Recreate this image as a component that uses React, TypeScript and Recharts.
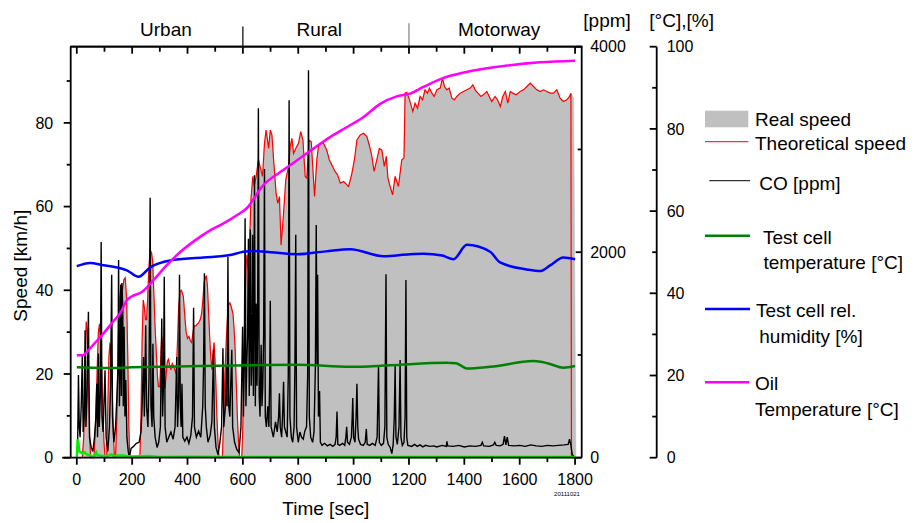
import React from 'react';
import { ComposedChart, Area, Line, XAxis, YAxis, ReferenceLine, ReferenceDot } from 'recharts';

// [time s, km/h]
const theoreticalSpeed: [number, number][] = [
  [0,0],[20,0],[25,5],[30,22],[34,32.5],[38,30],[42,18],[46,6],[50,0],[62,0],[68,8],[74,22],[78,30],[82,32],[88,25],[94,12],[98,4],[102,0],[108,0],[112,12],[116,24],[120,27.5],[124,22],[128,16],[132,6],[136,0],[140,0],[145,10],[150,28],[155,38],[160,41.5],[165,40],[170,42.5],[175,43],[180,38],[184,25],[188,8],[191,0],[228,0],[232,10],[236,28],[240,37.7],[244,36],[248,33],[252,33],[256,38],[260,45],[265,49.6],[270,49],[274,47],[278,40],[283,31],[288,24],[292,19],[295,17],[300,17],[304,25],[307,29],[311,26],[315,18],[319,16.5],[323,20],[327,23],[331,23.5],[336,22],[340,21],[345,22.5],[349,22],[354,21],[359,20],[364,28],[368,36],[373,39.7],[378,40],[385,38.5],[390,34],[395,30],[400,28.5],[405,29],[410,28],[415,27.5],[420,30],[424,31.5],[430,31.5],[436,32],[440,32.2],[446,33],[451,34.5],[456,38],[460,42],[464,42.8],[468,43.5],[472,41],[476,35],[480,29],[484,24],[488,21],[492,25],[496,27.5],[499,24],[502,18.5],[506,10],[510,4],[514,0],[526,0],[530,8],[535,20],[540,28],[544,33],[548,36.5],[553,37],[558,36],[564,34.5],[568,31],[572,26],[576,18],[580,10],[584,4],[588,0],[596,0],[600,8],[604,25],[608,37.7],[612,46],[615,48.5],[619,45],[623,48],[629,61.6],[636,67.2],[641,64.8],[648,67.2],[656,71.2],[662,69.6],[671,67.2],[678,75.1],[684,78.3],[693,73.9],[699,78.3],[705,77.1],[711,71.2],[720,63.2],[726,60.8],[732,62.4],[738,50.8],[747,58.4],[755,66.4],[765,69.6],[771,74.3],[777,76.3],[783,72.7],[791,73.9],[801,75.1],[809,77.9],[817,75.9],[825,67.2],[831,66.8],[839,75.9],[847,75.5],[853,68.8],[859,62.4],[867,71.2],[873,74.3],[882,75.1],[891,75.1],[903,73.5],[912,71.2],[921,70],[933,68.4],[942,67.6],[952,65.6],[964,66],[976,65.2],[982,64.8],[994,68],[1003,71.2],[1012,75.9],[1024,77.1],[1036,77.5],[1048,76.7],[1058,74.3],[1066,72],[1074,68.4],[1084,71.2],[1093,73.9],[1102,73.5],[1111,69.6],[1118,72],[1124,66.8],[1132,64.8],[1141,62.8],[1150,67.2],[1162,64.8],[1174,71.2],[1182,71.6],[1186,87.1],[1192,87.3],[1202,85.5],[1214,82.7],[1222,84.7],[1231,83.5],[1240,86.3],[1249,85.5],[1258,87.9],[1267,87.1],[1274,88.3],[1283,87.1],[1291,86.3],[1301,87.9],[1313,88.3],[1321,90.7],[1328,88.7],[1337,87.9],[1345,88.3],[1355,85.9],[1364,85.5],[1373,86.3],[1385,87.1],[1397,87.5],[1409,87.9],[1421,88.3],[1431,89.1],[1439,87.9],[1449,87.1],[1460,86.3],[1469,86.7],[1481,87.5],[1490,86.3],[1499,85.1],[1511,86.3],[1520,85.5],[1530,83.9],[1539,86.3],[1548,87.5],[1557,84.7],[1566,87.5],[1575,87.1],[1587,86.7],[1602,87.5],[1614,87.9],[1626,88.7],[1638,89.5],[1650,88.7],[1662,87.9],[1674,87.5],[1686,87.9],[1698,87.5],[1710,87.1],[1722,87.1],[1734,87.9],[1746,85.9],[1758,85.1],[1770,85.5],[1780,86.3],[1785,87.1],[1787,0],[1800,0],
];

// real speed follows the theoretical trace, ending a little later
const realSpeedEnd: [number, number][] = [[1785, 87.1], [1795, 86], [1803, 0]];

// [time s, ppm]
const coPpm: [number, number][] = [
  [0,0],[3,100],[6,805],[9,300],[12,200],[16,500],[20,1000],[23,250],[27,400],[30,1240],[33,300],[37,600],[42,1420],[46,200],[52,100],[58,60],[64,200],[69,400],[72,720],[75,200],[78,1015],[81,300],[85,600],[88,2100],[91,400],[95,250],[102,850],[106,200],[112,60],[118,300],[122,700],[126,1780],[129,400],[134,150],[140,300],[145,600],[149,900],[151,1925],[154,500],[157,1000],[159,1680],[161,600],[163,1700],[166,1470],[168,500],[171,1275],[174,400],[177,755],[181,200],[186,60],[190,0],[196,90],[205,110],[215,140],[225,150],[232,250],[236,500],[241,980],[244,400],[249,1290],[252,500],[257,300],[261,800],[265,2530],[268,500],[272,300],[275,1110],[278,400],[283,200],[290,100],[296,150],[302,300],[307,1355],[310,400],[313,700],[316,1760],[319,300],[325,150],[332,200],[340,250],[348,180],[355,300],[361,980],[364,300],[368,600],[371,1780],[374,500],[377,300],[380,720],[383,200],[390,160],[398,200],[405,140],[412,220],[418,400],[422,1460],[425,300],[432,200],[440,260],[448,200],[455,500],[458,900],[461,1795],[464,500],[468,300],[474,150],[482,220],[488,350],[494,1050],[497,300],[503,100],[510,30],[517,150],[523,300],[528,1065],[531,300],[537,500],[541,900],[543,500],[546,1955],[549,500],[553,400],[556,700],[560,1050],[563,300],[570,150],[578,80],[586,50],[593,300],[596,800],[599,1275],[602,400],[605,900],[608,2330],[611,500],[614,900],[617,1200],[620,2130],[623,600],[627,2220],[630,700],[633,1000],[635,2170],[638,600],[642,2750],[645,500],[648,1500],[651,700],[653,1200],[656,3400],[659,600],[662,400],[666,1100],[669,500],[672,700],[675,1200],[678,2810],[681,400],[685,300],[690,500],[694,300],[697,800],[699,1528],[702,300],[710,200],[718,350],[724,250],[729,400],[732,627],[735,300],[740,200],[744,450],[747,740],[750,300],[755,250],[760,200],[764,800],[767,3480],[770,400],[775,200],[780,150],[785,300],[788,900],[791,2170],[794,300],[800,150],[806,250],[812,200],[818,180],[824,260],[830,300],[834,800],[837,3770],[840,400],[845,200],[852,150],[857,250],[862,900],[865,2265],[868,900],[870,1780],[873,400],[877,650],[880,150],[886,120],[895,140],[905,115],[915,130],[925,110],[933,130],[937,200],[940,450],[943,130],[950,120],[960,140],[968,120],[972,200],[975,300],[978,150],[985,130],[992,200],[995,400],[997,580],[1000,200],[1005,150],[1009,400],[1012,720],[1015,300],[1018,180],[1025,130],[1035,120],[1042,150],[1046,280],[1049,130],[1058,120],[1068,140],[1078,120],[1085,200],[1090,900],[1093,150],[1100,120],[1108,140],[1113,300],[1117,1785],[1120,200],[1125,130],[1132,100],[1138,40],[1143,130],[1147,400],[1150,900],[1153,200],[1158,130],[1164,300],[1168,950],[1171,200],[1176,120],[1182,150],[1186,400],[1189,1730],[1192,200],[1196,120],[1210,110],[1220,130],[1230,110],[1240,125],[1250,105],[1260,120],[1275,110],[1290,115],[1300,105],[1320,120],[1335,110],[1337,160],[1340,115],[1360,110],[1380,120],[1400,105],[1420,115],[1440,110],[1460,120],[1465,150],[1470,115],[1490,110],[1505,125],[1510,150],[1515,120],[1530,115],[1540,130],[1545,210],[1550,125],[1555,200],[1560,120],[1580,115],[1600,120],[1620,110],[1640,125],[1660,115],[1680,110],[1700,120],[1720,115],[1740,120],[1760,125],[1775,130],[1780,180],[1785,120],[1790,30],[1795,15],[1800,0],
];

// [time s, °C]
const cellTemperature: [number, number][] = [
  [0,22.0],[100,21.8],[200,22.0],[445,22.3],[638,22.5],[800,22.6],[988,22.1],[1132,22.5],[1337,23.1],[1370,23.0],[1409,21.7],[1493,22.1],[1650,23.5],[1700,23.0],[1758,21.9],[1800,22.3],
];

// [time s, %]
const cellHumidity: [number, number][] = [
  [0,46.6],[48,47.4],[96,46.8],[145,46.3],[181,45.6],[223,44.0],[265,46.3],[337,48.0],[457,48.7],[554,49.3],[602,50.1],[638,50.3],[700,50.0],[795,49.5],[900,50.2],[988,50.7],[1108,49.0],[1204,49.5],[1252,49.6],[1320,49.2],[1361,48.3],[1409,51.8],[1493,50.1],[1529,47.5],[1626,45.8],[1674,45.4],[1710,46.8],[1758,48.7],[1800,48.3],
];

// [time s, °C]
const oilTemperature: [number, number][] = [
  [0,24.9],[20,24.9],[40,26],[60,27.5],[96,30.2],[130,33],[157,35.2],[181,38.3],[200,39.3],[235,40.3],[277,43.2],[320,46.5],[373,50],[430,53],[482,55.3],[530,57],[578,59],[614,60.7],[674,66.3],[735,69.5],[795,72.3],[855,75.2],[915,78],[975,80.4],[1036,82.9],[1096,86.1],[1156,87.9],[1204,88.6],[1252,90.2],[1325,92.4],[1433,94.2],[1553,95.4],[1674,96.2],[1800,96.6],
];

// unlabelled trace along the bottom (km/h axis)
const lowTrace: [number, number][] = [
  [0,0],[3,4.4],[6,3.5],[9,1.5],[14,1.3],[20,1.0],[28,1.3],[36,0.8],[45,0.6],[55,0.4],[65,0.5],[70,1.3],[75,0.6],[90,0.5],[110,0.4],[125,0.8],[135,0.4],[160,0.6],[180,0.4],[200,0.3],[260,0.4],[300,0.2],[400,0.25],[600,0.2],[1000,0.15],[1800,0.15],
];

const timeTicks = [0,100,200,300,400,500,600,700,800,900,1000,1100,1200,1300,1400,1500,1600,1700,1800];
const speedTicks = [0,10,20,30,40,50,60,70,80,90];
const ppmTicks = [0,1000,2000,3000,4000];
const pctTicks = [0,10,20,30,40,50,60,70,80,90,100];
const timeDomain: [number, number] = [-22, 1824];
const speedDomain: [number, number] = [0, 98.2];
const phaseBounds = [600, 1200];
const phaseLabels: { name: string; t: number }[] = [
  { name: 'Urban', t: 322 },
  { name: 'Rural', t: 876 },
  { name: 'Motorway', t: 1526 },
];

function buildRows() {
  const map = new Map<number, any>();
  const add = (arr: [number, number][], key: string) => {
    arr.forEach(([t, v]) => {
      const r = map.get(t) ?? { t };
      r[key] = v;
      map.set(t, r);
    });
  };
  add(theoreticalSpeed, 'theo');
  add(theoreticalSpeed.filter(([t]) => t < realSpeedEnd[0][0]), 'real');
  add(realSpeedEnd, 'real');
  add(coPpm, 'co');
  add(cellTemperature, 'cellT');
  add(cellHumidity, 'hum');
  add(oilTemperature, 'oil');
  add(lowTrace, 'low');
  return Array.from(map.values()).sort((a, b) => a.t - b.t);
}

const rows = buildRows();
const FONT = '"Liberation Sans", Arial, sans-serif';
const AX = 1.8;

const BottomTick = (p: any) => {
  const major = p.payload.value % 200 === 0;
  return (
    <g>
      <line x1={p.x} y1={p.y} x2={p.x} y2={p.y + (major ? 7 : 4.3)} stroke="#000" strokeWidth={AX} />
      {major && (
        <text x={p.x} y={p.y + 27.5} textAnchor="middle" fontSize={16} fill="#000" fontFamily={FONT}>
          {p.payload.value}
        </text>
      )}
    </g>
  );
};

const TopTick = (p: any) => {
  const major = p.payload.value % 200 === 0;
  return <line x1={p.x} y1={p.y} x2={p.x} y2={p.y + (major ? 7 : 5)} stroke="#000" strokeWidth={AX} />;
};

const LeftTick = (p: any) => {
  const major = p.payload.value % 20 === 0;
  return (
    <g>
      <line x1={p.x - (major ? 7 : 4)} y1={p.y} x2={p.x} y2={p.y} stroke="#000" strokeWidth={AX} />
      {major && (
        <text x={p.x - 17.5} y={p.y + 5.7} textAnchor="end" fontSize={16} fill="#000" fontFamily={FONT}>
          {p.payload.value}
        </text>
      )}
    </g>
  );
};

const PpmTick = (p: any) => {
  const major = p.payload.value % 2000 === 0;
  return (
    <g>
      <line x1={p.x - (major ? 6 : 4)} y1={p.y} x2={p.x} y2={p.y} stroke="#000" strokeWidth={AX} />
      {major && (
        <text x={p.x + 8.5} y={p.y + 5.7} textAnchor="start" fontSize={16} fill="#000" fontFamily={FONT}>
          {p.payload.value}
        </text>
      )}
    </g>
  );
};

const PctTick = (p: any) => {
  const major = p.payload.value % 20 === 0;
  return (
    <g>
      <line x1={p.x - (major ? 7 : 4.5)} y1={p.y} x2={p.x} y2={p.y} stroke="#000" strokeWidth={AX} />
      {major && (
        <text x={p.x + 10} y={p.y + 5.7} textAnchor="start" fontSize={16} fill="#000" fontFamily={FONT}>
          {p.payload.value}
        </text>
      )}
    </g>
  );
};

const T = (props: any) => <text fontFamily={FONT} fontSize={19} fill="#000" {...props} />;

export default function App() {
  return (
    <div style={{ position: 'absolute', left: 0, top: 0, width: 914, height: 523, background: '#fff', fontFamily: FONT }}>
      <ComposedChart
        width={914}
        height={523}
        data={rows}
        margin={{ top: 26.7, right: 197.3, bottom: 35.3, left: 10.7 }}
      >
        <XAxis
          xAxisId="b"
          dataKey="t"
          type="number"
          domain={timeDomain}
          ticks={timeTicks}
          interval={0}
          height={30}
          tickSize={0}
          tickMargin={0}
          tickLine={false}
          axisLine={{ stroke: '#000', strokeWidth: AX }}
          tick={<BottomTick />}
        />
        <XAxis
          xAxisId="top"
          orientation="top"
          dataKey="t"
          type="number"
          domain={timeDomain}
          ticks={timeTicks}
          interval={0}
          height={20}
          tickSize={0}
          tickMargin={0}
          tickLine={false}
          axisLine={{ stroke: '#000', strokeWidth: AX }}
          tick={<TopTick />}
        />
        <YAxis
          yAxisId="speed"
          domain={speedDomain}
          ticks={speedTicks}
          interval={0}
          width={60}
          tickSize={0}
          tickMargin={0}
          tickLine={false}
          axisLine={{ stroke: '#000', strokeWidth: AX }}
          tick={<LeftTick />}
        />
        <YAxis
          yAxisId="r2pct"
          orientation="right"
          domain={[0, 100]}
          ticks={pctTicks}
          interval={0}
          width={60}
          tickSize={0}
          tickMargin={0}
          tickLine={false}
          axisLine={{ stroke: '#000', strokeWidth: AX }}
          tick={<PctTick />}
        />
        <YAxis
          yAxisId="r1ppm"
          orientation="right"
          domain={[0, 4000]}
          ticks={ppmTicks}
          interval={0}
          width={75}
          tickSize={0}
          tickMargin={0}
          tickLine={false}
          axisLine={{ stroke: '#000', strokeWidth: AX }}
          tick={<PpmTick />}
        />
        <Area xAxisId="b" yAxisId="speed" dataKey="real" type="linear" fill="#c0c0c0" fillOpacity={1} stroke="#c0c0c0" strokeWidth={0.5} connectNulls dot={false} activeDot={false} isAnimationActive={false} />
        <Line xAxisId="b" yAxisId="speed" dataKey="theo" type="linear" stroke="#ff0000" strokeWidth={1.2} connectNulls dot={false} activeDot={false} isAnimationActive={false} />
        <Line xAxisId="b" yAxisId="r1ppm" dataKey="co" type="linear" stroke="#000000" strokeWidth={1.4} connectNulls dot={false} activeDot={false} isAnimationActive={false} />
        <Line xAxisId="top" yAxisId="speed" dataKey="low" type="linear" stroke="#00ee00" strokeWidth={2.4} connectNulls dot={false} activeDot={false} isAnimationActive={false} />
        <Line xAxisId="b" yAxisId="r2pct" dataKey="cellT" type="monotone" stroke="#008000" strokeWidth={2.5} connectNulls dot={false} activeDot={false} isAnimationActive={false} />
        <Line xAxisId="b" yAxisId="r2pct" dataKey="hum" type="monotone" stroke="#0000ff" strokeWidth={2.5} connectNulls dot={false} activeDot={false} isAnimationActive={false} />
        <Line xAxisId="b" yAxisId="r2pct" dataKey="oil" type="monotone" stroke="#ff00ff" strokeWidth={2.5} connectNulls dot={false} activeDot={false} isAnimationActive={false} />
        <ReferenceLine
          xAxisId="b"
          yAxisId="speed"
          ifOverflow="visible"
          segment={[{ x: -53, y: 0 }, { x: timeDomain[0], y: 0 }]}
          stroke="#000"
          strokeWidth={AX}
        />
        {phaseBounds.map((b, i) => (
          <ReferenceLine
            key={b}
            xAxisId="b"
            yAxisId="speed"
            ifOverflow="visible"
            segment={[{ x: b, y: speedDomain[1] }, { x: b, y: i === 0 ? 103 : 103.8 }]}
            stroke={i === 0 ? '#000' : '#808080'}
            strokeWidth={1.2}
          />
        ))}
        {phaseLabels.map((p) => (
          <ReferenceDot
            key={p.name}
            xAxisId="b"
            yAxisId="speed"
            x={p.t}
            y={102.4}
            r={0}
            fill="none"
            stroke="none"
            ifOverflow="visible"
            label={{ value: p.name, position: 'center', fontSize: 19, fill: '#000', fontFamily: FONT }}
          />
        ))}
      </ComposedChart>
      <svg width={914} height={523} style={{ position: 'absolute', left: 0, top: 0, pointerEvents: 'none' }}>
        {/* top edge of the plot frame */}
        <line x1={70} y1={46.7} x2={582.6} y2={46.7} stroke="#000" strokeWidth={AX} />
        <T x={0} y={0} textAnchor="middle" transform="translate(26.5 265.7) rotate(-90)">Speed [km/h]</T>
        <T x={325.8} y={515} textAnchor="middle">Time [sec]</T>
        <T x={583.3} y={27} textAnchor="start">[ppm]</T>
        <T x={649.3} y={27} textAnchor="start">[°C],[%]</T>
        <text x={567} y={496} textAnchor="middle" fontSize={6} fontFamily={FONT} fill="#000">20111021</text>
        {/* legend */}
        <rect x={705} y={110.7} width={43.3} height={16.6} fill="#c0c0c0" />
        <T x={755} y={126}>Real speed</T>
        <line x1={705} y1={141.7} x2={748.3} y2={141.7} stroke="#ff0000" strokeWidth={1} />
        <T x={755} y={149.5}>Theoretical speed</T>
        <line x1={709.3} y1={180.7} x2={750} y2={180.7} stroke="#000" strokeWidth={1} />
        <T x={759.3} y={189.5}>CO [ppm]</T>
        <line x1={705} y1={235.7} x2={750} y2={235.7} stroke="#008000" strokeWidth={2.5} />
        <T x={763} y={243.5}>Test cell</T>
        <T x={763.5} y={268.5}>temperature [°C]</T>
        <line x1={705} y1={309} x2={750} y2={309} stroke="#0000ff" strokeWidth={2.5} />
        <T x={756} y={317}>Test cell rel.</T>
        <T x={759.3} y={342.5}>humidity [%]</T>
        <line x1={705} y1={382.3} x2={749.3} y2={382.3} stroke="#ff00ff" strokeWidth={2.5} />
        <T x={755} y={390}>Oil</T>
        <T x={755} y={416}>Temperature [°C]</T>
      </svg>
    </div>
  );
}
